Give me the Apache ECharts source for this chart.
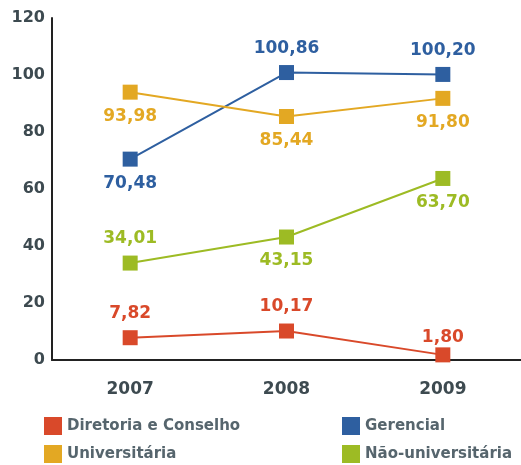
<!DOCTYPE html>
<html>
<head>
<meta charset="utf-8">
<script src="https://cdn.jsdelivr.net/npm/echarts@6/dist/echarts.min.js"></script>
<style>
    html, body { margin: 0; padding: 0; background: #fff; }
    #chart { width: 521px; height: 465px; }
</style>
</head>
<body>
<div id="chart"></div>
<script>
    var years = ['2007', '2008', '2009'];
    var diretoria = [7.82, 10.17, 1.80];
    var gerencial = [70.48, 100.86, 100.20];
    var universitaria = [93.98, 85.44, 91.80];
    var naoUniversitaria = [34.01, 43.15, 63.70];
    var yTicks = [0, 20, 40, 60, 80, 100, 120];

    var names = ['Diretoria e Conselho', 'Gerencial', 'Universitária', 'Não-universitária'];
    var colors = ['#d9492a', '#2e5fa0', '#e3a823', '#9dbb24'];
    // label position per point
    var positions = [
        ['top', 'top', 'top'],
        ['bottom', 'top', 'top'],
        ['bottom', 'bottom', 'bottom'],
        ['top', 'bottom', 'bottom']
    ];
    var distances = [
        [8, 8, 1],
        [8, 8, 8],
        [8, 8, 8],
        [8, 8, 8]
    ];
    var values = [diretoria, gerencial, universitaria, naoUniversitaria];

    function fmt(v) {
        return v.toFixed(2).replace('.', ',');
    }

    var series = values.map(function (arr, i) {
        return {
            name: names[i],
            type: 'line',
            data: arr.map(function (v, j) {
                return {
                    value: v,
                    label: { position: positions[i][j], distance: distances[i][j] }
                };
            }),
            symbol: 'rect',
            symbolSize: 15,
            lineStyle: { width: 2, color: colors[i] },
            itemStyle: { color: colors[i] },
            label: {
                show: true,
                color: colors[i],
                fontFamily: 'DejaVu Sans',
                fontWeight: 'bold',
                fontSize: 17,
                formatter: function (p) { return fmt(p.value); }
            },
            emphasis: { disabled: true },
            animation: false
        };
    });

    var legendPos = [[39, 412], [337, 412], [39, 440], [337, 440]];
    var legends = names.map(function (n, i) {
        return {
            data: [n],
            left: legendPos[i][0],
            top: legendPos[i][1],
            icon: 'rect',
            itemWidth: 18,
            itemHeight: 18,
            itemGap: 5,
            textStyle: {
                color: '#56656d',
                fontFamily: 'DejaVu Sans',
                fontWeight: 'bold',
                fontSize: 15
            }
        };
    });

    var chart = echarts.init(document.getElementById('chart'));
    chart.setOption({
        backgroundColor: '#fff',
        color: colors,
        legend: legends,
        grid: { left: 52, right: 0, top: 18, bottom: 105 },
        xAxis: {
            type: 'category',
            data: years,
            axisLine: { lineStyle: { color: '#222', width: 2 } },
            axisTick: { show: false },
            axisLabel: {
                margin: 21,
                color: '#3d4a50',
                fontFamily: 'DejaVu Sans',
                fontWeight: 'bold',
                fontSize: 17
            }
        },
        yAxis: {
            type: 'value',
            min: yTicks[0],
            max: yTicks[yTicks.length - 1],
            interval: 20,
            axisLine: { show: true, lineStyle: { color: '#222', width: 2 } },
            axisTick: { show: false },
            splitLine: { show: false },
            axisLabel: {
                margin: 7,
                color: '#3d4a50',
                fontFamily: 'DejaVu Sans',
                fontWeight: 'bold',
                fontSize: 16
            }
        },
        series: series
    });
</script>
</body>
</html>
